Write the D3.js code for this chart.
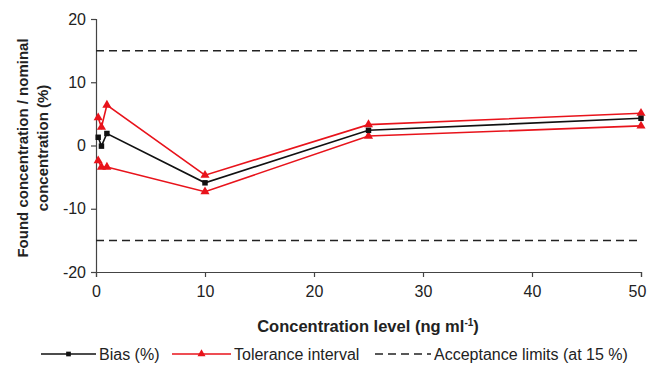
<!DOCTYPE html>
<html>
<head>
<meta charset="utf-8">
<script src="https://cdn.jsdelivr.net/npm/d3@7"></script>
<style>
  body { margin: 0; background: #fff; }
  svg { font-family: "Liberation Sans", Arial, sans-serif; }
</style>
</head>
<body>
<svg id="chart" width="648" height="368"></svg>
<script>
// concentration levels (ng/ml)
var levels = [0.2, 0.5, 1, 10, 25, 50];
// relative bias (%)
var bias = [1.3, -0.1, 1.9, -5.9, 2.4, 4.3];
// tolerance interval limits (%)
var upperTol = [4.4, 2.9, 6.4, -4.7, 3.3, 5.1];
var lowerTol = [-2.4, -3.4, -3.4, -7.3, 1.5, 3.1];
// acceptance limits
var acceptance = [15, -15];
var xTicks = [0, 10, 20, 30, 40, 50];
var yTicks = [-20, -10, 0, 10, 20];

var svg = d3.select('#chart');
var margin = {left: 96, top: 19, right: 7, bottom: 96};
var w = 648 - margin.left - margin.right;
var h = 368 - margin.top - margin.bottom;

var x = d3.scaleLinear().domain([0, 50]).range([0, w]);
var y = d3.scaleLinear().domain([-20, 20]).range([h, 0]);

var g = svg.append('g')
    .attr('transform', 'translate(' + margin.left + ',' + margin.top + ')');

// axes
var yAxis = g.append('g')
    .call(d3.axisLeft(y).tickValues(yTicks).tickSize(5).tickPadding(5)
        .tickFormat(function (d) { return String(d); }));
var xAxis = g.append('g')
    .attr('transform', 'translate(0,' + h + ')')
    .call(d3.axisBottom(x).tickValues(xTicks).tickSize(5).tickPadding(9)
        .tickFormat(function (d) { return String(d); }));
[xAxis, yAxis].forEach(function (a) {
    a.select('.domain').attr('stroke', '#444').attr('stroke-width', 1.2);
    a.selectAll('.tick line').attr('stroke', '#444').attr('stroke-width', 1.2);
    a.selectAll('.tick text')
        .style('font-size', '16px')
        .style('font-family', '"Liberation Sans", Arial, sans-serif')
        .attr('fill', '#222');
});
// keep the last label inside the frame
xAxis.selectAll('.tick text')
    .filter(function (d) { return d === 50; })
    .attr('text-anchor', 'end')
    .attr('dx', '0.3em');

// acceptance limits
acceptance.forEach(function (v) {
    g.append('line')
        .attr('x1', x(0)).attr('x2', x(50))
        .attr('y1', y(v)).attr('y2', y(v))
        .attr('stroke', '#222')
        .attr('stroke-width', 1.5)
        .attr('stroke-dasharray', '8,5');
});

var line = d3.line()
    .x(function (d) { return x(d[0]); })
    .y(function (d) { return y(d[1]); });

function series(vals, color, shape) {
    var pts = levels.map(function (l, i) { return [l, vals[i]]; });
    g.append('path')
        .attr('d', line(pts))
        .attr('fill', 'none')
        .attr('stroke', color)
        .attr('stroke-width', 1.6);
    g.selectAll(null)
        .data(pts)
        .enter()
        .append('path')
        .attr('transform', function (d) { return 'translate(' + x(d[0]) + ',' + y(d[1]) + ')'; })
        .attr('d', d3.symbol().type(shape).size(shape === d3.symbolSquare ? 30 : 36))
        .attr('fill', color);
}

series(upperTol, '#e8131b', d3.symbolTriangle);
series(lowerTol, '#e8131b', d3.symbolTriangle);
series(bias, '#111', d3.symbolSquare);

// axis titles
svg.append('text')
    .attr('x', 368).attr('y', 332)
    .attr('text-anchor', 'middle')
    .style('font-size', '16.5px').style('font-weight', 'bold')
    .attr('fill', '#222')
    .html('Concentration level (ng ml<tspan dy="-6" font-size="10">-1</tspan><tspan dy="6">)</tspan>');

var yt = svg.append('text')
    .attr('transform', 'translate(0,148) rotate(-90)')
    .attr('text-anchor', 'middle')
    .style('font-size', '15px').style('font-weight', 'bold')
    .attr('fill', '#222');
yt.append('tspan').attr('x', 0).attr('y', 28).text('Found concentration / nominal');
yt.append('tspan').attr('x', 0).attr('y', 48).text('concentration (%)');

// legend
var leg = svg.append('g').attr('transform', 'translate(0,354)');
var items = [
    {label: 'Bias (%)', color: '#111', x1: 41, x2: 96, shape: d3.symbolSquare, dash: null},
    {label: 'Tolerance interval', color: '#e8131b', x1: 172, x2: 231, shape: d3.symbolTriangle, dash: null},
    {label: 'Acceptance limits (at 15 %)', color: '#222', x1: 375, x2: 431, shape: null, dash: '8,5'}
];
items.forEach(function (it) {
    leg.append('line')
        .attr('x1', it.x1).attr('x2', it.x2)
        .attr('y1', 0).attr('y2', 0)
        .attr('stroke', it.color)
        .attr('stroke-width', 1.5)
        .attr('stroke-dasharray', it.dash);
    if (it.shape) {
        leg.append('path')
            .attr('transform', 'translate(' + (it.x1 + it.x2) / 2 + ',0)')
            .attr('d', d3.symbol().type(it.shape).size(it.shape === d3.symbolSquare ? 22 : 28))
            .attr('fill', it.color);
    }
    leg.append('text')
        .attr('x', it.x2 + 3).attr('y', 6)
        .style('font-size', '16px')
        .attr('fill', '#222')
        .text(it.label);
});
</script>
</body>
</html>
